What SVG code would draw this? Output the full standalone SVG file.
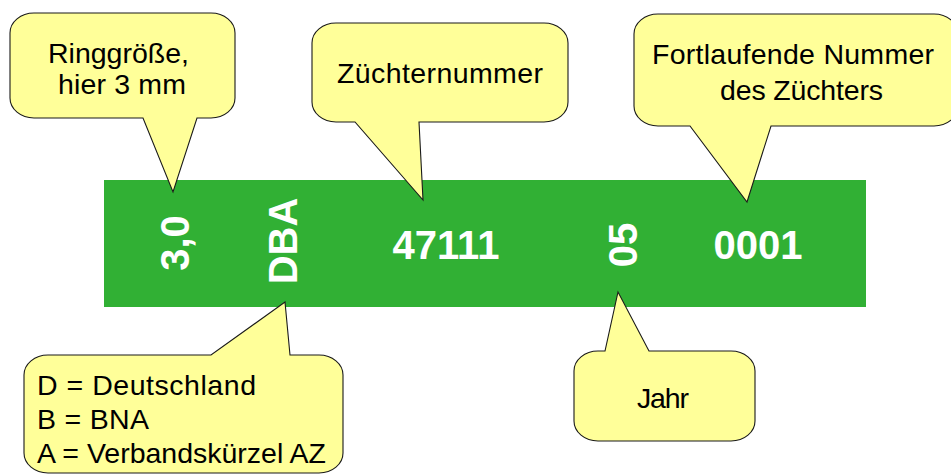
<svg xmlns="http://www.w3.org/2000/svg" width="951" height="474" viewBox="0 0 951 474">
<style>
.call{fill:#ffff99;stroke:#1a1a1a;stroke-width:1.1;stroke-linejoin:miter}
.lbl{font-family:"Liberation Sans",Arial,sans-serif;font-size:28.5px;fill:#000}
.ring{font-family:"Liberation Sans",Arial,sans-serif;font-size:40px;font-weight:bold;fill:#ffffff}
</style>
<rect width="951" height="474" fill="#ffffff"/>
<g id="ring-band">
<rect x="104" y="180" width="762" height="127" fill="#31b034"/>
<text class="ring" transform="translate(189,243) rotate(-90)" text-anchor="middle">3,0</text>
<text class="ring" transform="translate(297,241) rotate(-90)" text-anchor="middle">DBA</text>
<text class="ring" x="446" y="259" text-anchor="middle">47111</text>
<text class="ring" transform="translate(637,245) rotate(-90)" text-anchor="middle">05</text>
<text class="ring" x="758" y="259" text-anchor="middle">0001</text>
</g>
<g id="connectors"></g>
<g id="callout-groesse">
<path class="call" d="M34,13 H211 A24,20 0 0 1 235,33 V98 A24,20 0 0 1 211,118 H197 L173,192 L143,118 H34 A24,20 0 0 1 10,98 V33 A24,20 0 0 1 34,13 Z"/>
<text class="lbl" x="48" y="63" textLength="141" lengthAdjust="spacing">Ringgröße,</text>
<text class="lbl" x="58" y="94" textLength="128" lengthAdjust="spacing">hier 3 mm</text>
</g>
<g id="callout-zuechternummer">
<path class="call" d="M336,23 H544 A24,20 0 0 1 568,43 V102 A24,20 0 0 1 544,122 H419 L423,200 L355,122 H336 A24,20 0 0 1 312,102 V43 A24,20 0 0 1 336,23 Z"/>
<text class="lbl" x="337" y="83" textLength="206" lengthAdjust="spacing">Züchternummer</text>
</g>
<g id="callout-fortlaufend">
<path class="call" d="M658,14 H934 A24,20 0 0 1 958,34 V106 A24,20 0 0 1 934,126 H771 L747,202 L690,126 H658 A24,20 0 0 1 634,106 V34 A24,20 0 0 1 658,14 Z"/>
<text class="lbl" x="652" y="64" textLength="282" lengthAdjust="spacing">Fortlaufende Nummer</text>
<text class="lbl" x="720" y="100" textLength="163" lengthAdjust="spacing">des Züchters</text>
</g>
<g id="callout-dba">
<path class="call" d="M48,355 H211 L285,302 L290,355 H319 A24,20 0 0 1 343,375 V453 A24,20 0 0 1 319,473 H48 A24,20 0 0 1 24,453 V375 A24,20 0 0 1 48,355 Z"/>
<text class="lbl" x="37" y="395" textLength="219" lengthAdjust="spacing">D = Deutschland</text>
<text class="lbl" x="37" y="429" textLength="112" lengthAdjust="spacing">B = BNA</text>
<text class="lbl" x="37" y="463" textLength="289" lengthAdjust="spacing">A = Verbandskürzel AZ</text>
</g>
<g id="callout-jahr">
<path class="call" d="M598,351 H605 L618,292 L649,351 H731 A24,20 0 0 1 755,371 V421 A24,20 0 0 1 731,441 H598 A24,20 0 0 1 574,421 V371 A24,20 0 0 1 598,351 Z"/>
<text class="lbl" x="637" y="408" textLength="52" lengthAdjust="spacing">Jahr</text>
</g>
</svg>
